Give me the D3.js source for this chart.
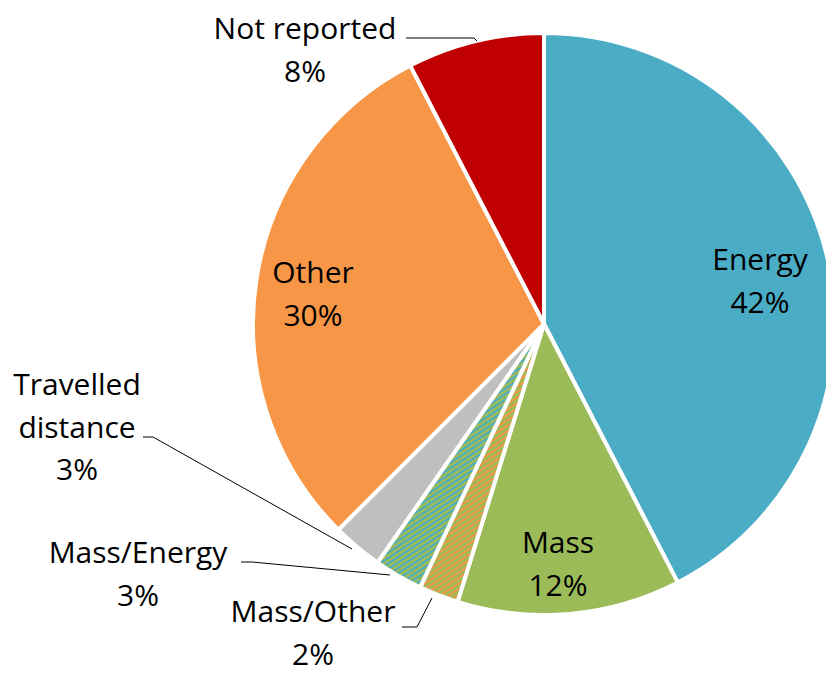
<!DOCTYPE html>
<html>
<head>
<meta charset="utf-8">
<script src="https://cdn.jsdelivr.net/npm/d3@7"></script>
<style>
  html, body { margin: 0; padding: 0; background: #fff; }
  text { font-family: "Open Sans", sans-serif; fill: #000; }
</style>
</head>
<body>
<div id="chart"></div>
<script>
const width = 826, height = 673;

// data, clockwise from 12 o'clock (shares in %)
const categories = ["Energy", "Mass", "Mass/Other", "Mass/Energy", "Travelled distance", "Other", "Not reported"];
const shares = [42.4, 12.4, 2.2, 2.7, 2.8, 29.9, 7.6];
const labelLines = [["Energy"], ["Mass"], ["Mass/Other"], ["Mass/Energy"], ["Travelled", "distance"], ["Other"], ["Not reported"]];

const cx = 544, cy = 324, radius = 291;

// label layout: text centre of first line, and leader line for outside labels
const layout = {
    "Energy":             { x: 760, y: 258 },
    "Mass":               { x: 558, y: 541 },
    "Mass/Other":         { x: 313, y: 610, leader: [[402, 627], [417, 627], [432, 598]] },
    "Mass/Energy":        { x: 138, y: 551, leader: [[241, 562], [252, 562], [390, 575]] },
    "Travelled distance": { x: 77,  y: 383, leader: [[143, 437], [153, 437], [352, 549]] },
    "Other":              { x: 313, y: 271 },
    "Not reported":       { x: 305, y: 27,  leader: [[406, 38], [474, 38], [477, 41]] }
};

const svg = d3.select("#chart").append("svg")
    .attr("width", width)
    .attr("height", height);

const defs = svg.append("defs");
function stripes(id, base, stripe) {
    const p = defs.append("pattern")
        .attr("id", id)
        .attr("patternUnits", "userSpaceOnUse")
        .attr("width", 4.6)
        .attr("height", 4.6)
        .attr("patternTransform", "rotate(-33)");
    p.append("rect").attr("width", 4.6).attr("height", 4.6).attr("fill", base);
    p.append("rect").attr("width", 4.6).attr("height", 1.9).attr("fill", stripe);
}
stripes("hatchOther", "#9BBB59", "#F79646");
stripes("hatchEnergy", "#9BBB59", "#4BACC6");

const fills = {
    "Energy": "#4BACC6",
    "Mass": "#9BBB59",
    "Mass/Other": "url(#hatchOther)",
    "Mass/Energy": "url(#hatchEnergy)",
    "Travelled distance": "#BFBFBF",
    "Other": "#F79646",
    "Not reported": "#C00000"
};

const pie = d3.pie().sort(null).value(function(d) { return d.value; });
const arc = d3.arc().innerRadius(0).outerRadius(radius);

const data = categories.map(function(c, i) {
    return { name: c, value: shares[i], lines: labelLines[i] };
});

const g = svg.append("g").attr("transform", "translate(" + cx + "," + cy + ")");

g.selectAll("path")
    .data(pie(data))
    .enter()
    .append("path")
    .attr("d", arc)
    .attr("fill", function(d) { return fills[d.data.name]; })
    .attr("stroke", "#fff")
    .attr("stroke-width", 4)
    .attr("stroke-linejoin", "round");

// leader lines
const line = d3.line();
svg.selectAll(".leader")
    .data(data.filter(function(d) { return layout[d.name].leader; }))
    .enter()
    .append("path")
    .attr("class", "leader")
    .attr("d", function(d) { return line(layout[d.name].leader); })
    .attr("fill", "none")
    .attr("stroke", "#000")
    .attr("stroke-width", 1);

// labels
const lineHeight = 42.5;
const pct = d3.format(".0f");
const labels = svg.selectAll(".label")
    .data(data)
    .enter()
    .append("text")
    .attr("class", "label")
    .attr("text-anchor", "middle")
    .attr("font-size", 30)
    .attr("dominant-baseline", "central");

labels.each(function(d) {
    const t = d3.select(this);
    const pos = layout[d.name];
    const rows = d.lines.concat([pct(d.value) + "%"]);
    rows.forEach(function(r, i) {
        t.append("tspan")
            .attr("x", pos.x)
            .attr("y", pos.y + i * lineHeight)
            .text(r);
    });
});
</script>
</body>
</html>
